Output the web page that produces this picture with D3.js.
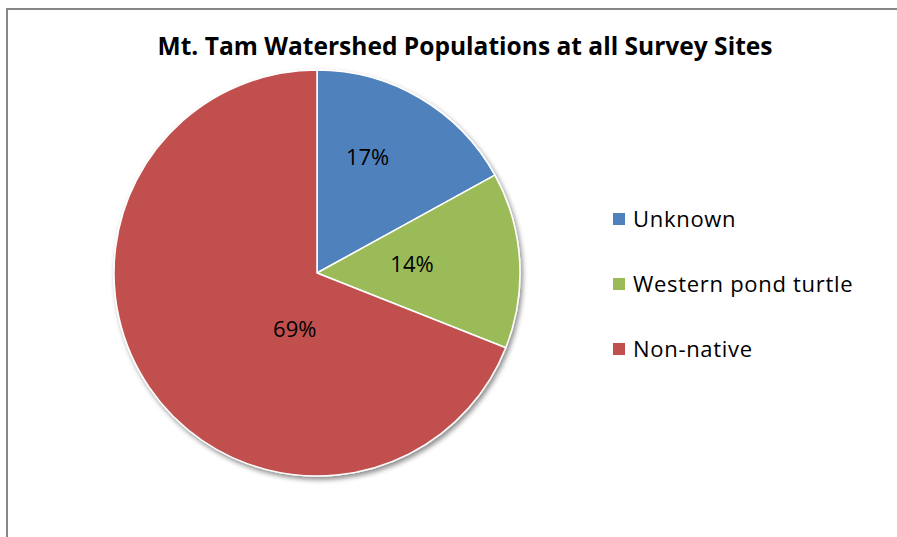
<!DOCTYPE html>
<html>
<head>
<meta charset="utf-8">
<script src="https://cdn.jsdelivr.net/npm/d3@7"></script>
<style>
  body { margin: 0; background: #fff; }
  svg { display: block; }
</style>
</head>
<body>
<div id="chart"></div>
<script>
const categories = ["Unknown", "Western pond turtle", "Non-native"]
const shares = [17, 14, 69]
const colors = ["#4F81BD", "#9BBB59", "#C0504D"]
const title = "Mt. Tam Watershed Populations at all Survey Sites"

const width = 897
const height = 537
const font = "'Open Sans', sans-serif"

const svg = d3.select("#chart")
    .append("svg")
    .attr("width", width)
    .attr("height", height)

// frame of the chart area (runs off the right and bottom edges)
svg.append("rect")
    .attr("x", 7)
    .attr("y", 9)
    .attr("width", width + 20)
    .attr("height", height + 20)
    .attr("fill", "#fff")
    .attr("stroke", "#878787")
    .attr("stroke-width", 2)

svg.append("text")
    .attr("x", 465)
    .attr("y", 55)
    .attr("text-anchor", "middle")
    .attr("font-family", font)
    .attr("font-weight", "bold")
    .attr("font-size", 25)
    .attr("textLength", 615)
    .attr("lengthAdjust", "spacingAndGlyphs")
    .attr("fill", "#000")
    .text(title)

const defs = svg.append("defs")
const shadow = defs.append("filter")
    .attr("id", "shadow")
    .attr("x", "-10%").attr("y", "-10%")
    .attr("width", "130%").attr("height", "130%")
shadow.append("feDropShadow")
    .attr("dx", 2)
    .attr("dy", 3)
    .attr("stdDeviation", 2.5)
    .attr("flood-color", "#000")
    .attr("flood-opacity", 0.45)

const cx = 317, cy = 273, radius = 203

const pie = d3.pie().sort(null).value(d => d)
const arcs = pie(shares)
const arc = d3.arc().innerRadius(0).outerRadius(radius)

const g = svg.append("g")
    .attr("transform", `translate(${cx},${cy})`)

g.append("g")
    .attr("filter", "url(#shadow)")
    .selectAll("path")
    .data(arcs)
    .enter().append("path")
    .attr("d", arc)
    .attr("fill", (d, i) => colors[i])
    .attr("stroke", "#fff")
    .attr("stroke-width", 1.5)
    .attr("stroke-linejoin", "round")

// label placement inside each slice: [angle shift (rad), distance as share of radius]
const labelPlace = [[-0.12, 0.62], [-0.03, 0.47], [-0.6, 0.3]]

g.selectAll(".pct")
    .data(arcs)
    .enter().append("text")
    .attr("class", "pct")
    .attr("transform", (d, i) => {
        const a = (d.startAngle + d.endAngle) / 2 + labelPlace[i][0]
        const r = radius * labelPlace[i][1]
        return `translate(${r * Math.sin(a)},${-r * Math.cos(a)})`
    })
    .attr("text-anchor", "middle")
    .attr("dy", "0.35em")
    .attr("font-family", font)
    .attr("font-size", 22)
    .attr("fill", "#000")
    .text(d => Math.round(d.data) + "%")

const legend = svg.append("g")
    .attr("transform", "translate(613,219)")

const rows = legend.selectAll("g")
    .data(categories)
    .enter().append("g")
    .attr("transform", (d, i) => `translate(0,${i * 65})`)

rows.append("rect")
    .attr("x", 0)
    .attr("y", -6)
    .attr("width", 12)
    .attr("height", 12)
    .attr("fill", (d, i) => colors[i])

rows.append("text")
    .attr("x", 20)
    .attr("y", 0)
    .attr("dy", "0.36em")
    .attr("font-family", font)
    .attr("font-size", 22)
    .attr("letter-spacing", 0.7)
    .attr("fill", "#000")
    .text(d => d)
</script>
</body>
</html>
